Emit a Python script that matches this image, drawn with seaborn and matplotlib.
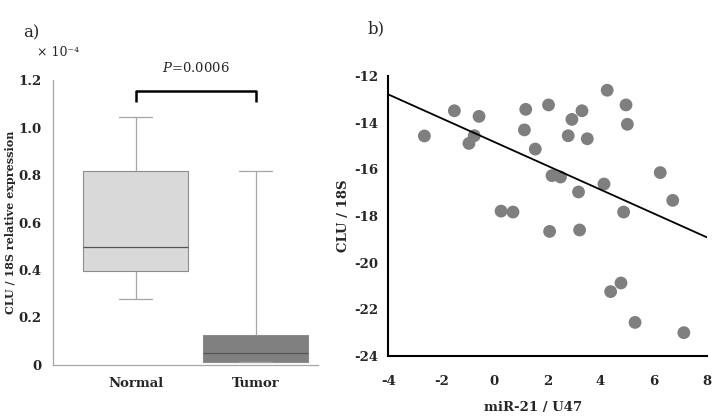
import matplotlib
matplotlib.use("Agg")
import matplotlib.pyplot as plt
import seaborn as sns
import numpy as np
import pandas as pd
from matplotlib.ticker import MultipleLocator

# panel a: five-number summaries (x 10^-4)
groups = ["Normal", "Tumor"]
normal_vals = [0.278, 0.396, 0.495, 0.818, 1.045]
tumor_vals = [0.011, 0.011, 0.050, 0.126, 0.818]
p_label = "$P$=0.0006"

# panel b: miR-21 / U47 vs CLU / 18S
mir21 = [-2.64, -1.51, -0.96, -0.76, -0.58, 0.25, 0.70, 1.13, 1.18, 1.54,
         2.04, 2.08, 2.17, 2.49, 2.78, 2.92, 3.17, 3.21, 3.30, 3.50,
         4.13, 4.25, 4.38, 4.77, 4.87, 4.96, 5.01, 5.30, 6.25, 6.72, 7.14]
clu = [-14.57, -13.49, -14.89, -14.56, -13.73, -17.79, -17.83, -14.31, -13.43, -15.13,
       -13.24, -18.66, -16.27, -16.33, -14.56, -13.86, -16.97, -18.60, -13.49, -14.69,
       -16.63, -12.61, -21.24, -20.87, -17.83, -13.24, -14.07, -22.56, -16.14, -17.33, -23.00]
fit_slope = -0.51
fit_intercept = -14.83

sns.set_style("white")
plt.rcParams["font.family"] = ["DejaVu Serif"]
plt.rcParams["mathtext.fontset"] = "dejavuserif"
plt.rcParams["axes.unicode_minus"] = False

fig = plt.figure(figsize=(7.2, 4.18), dpi=100)
ax1 = fig.add_axes([0.0732, 0.1268, 0.3685, 0.6818])
ax2 = fig.add_axes([0.5393, 0.1483, 0.4422, 0.6699])

# ---- panel a ----
box_df = pd.DataFrame({
    "group": [groups[0]] * len(normal_vals) + [groups[1]] * len(tumor_vals),
    "value": normal_vals + tumor_vals,
})
sns.boxplot(data=box_df, x="group", y="value", hue="group",
            palette=["#d9d9d9", "#808080"], whis=(0, 100), width=0.87,
            linecolor="#8c8c8c", linewidth=0.8, legend=False, ax=ax1,
            capwidths=0.27,
            medianprops={"color": "#555555", "linewidth": 0.9},
            whiskerprops={"color": "#a6a6a6", "linewidth": 0.9},
            capprops={"color": "#a6a6a6", "linewidth": 0.9})
ax1.set_xlim(-0.69, 1.52)
ax1.set_ylim(0, 1.2)
ax1.yaxis.set_minor_locator(MultipleLocator(0.1))
ax1.set_yticks([0, 0.2, 0.4, 0.6, 0.8, 1.0, 1.2])
ax1.set_yticklabels(["0", "0.2", "0.4", "0.6", "0.8", "1.0", "1.2"])
ax1.set_xticks([0, 1])
ax1.set_xticklabels(groups)
ax1.set_xticks([0.5], minor=True)
ax1.tick_params(axis="x", which="major", length=0, pad=9, labelsize=9.5)
ax1.tick_params(axis="x", which="minor", length=3, color="#a6a6a6", direction="out")
ax1.tick_params(axis="y", which="major", length=3, color="#a6a6a6", direction="out",
                labelsize=9.5, pad=5)
ax1.tick_params(axis="y", which="minor", length=2, color="#a6a6a6", direction="out")
ax1.set_xlabel("")
ax1.set_ylabel("CLU / 18S relative expression", fontsize=8, fontweight="bold", labelpad=2)
for side in ["top", "right"]:
    ax1.spines[side].set_visible(False)
for side in ["left", "bottom"]:
    ax1.spines[side].set_color("#a6a6a6")
    ax1.spines[side].set_linewidth(0.9)

# significance bracket
ax1.plot([0, 0, 1, 1], [1.107, 1.155, 1.155, 1.107], color="black", lw=1.8,
         clip_on=False, solid_capstyle="butt")
ax1.text(0.5, 1.25, p_label, ha="center", va="center", fontsize=9.5)

fig.text(0.032, 0.922, "a)", fontsize=12, ha="left", va="center")
fig.text(0.052, 0.875, "× 10⁻⁴", fontsize=9, ha="left", va="center")

# ---- panel b ----
sns.scatterplot(x=mir21, y=clu, color="#7f7f7f", s=85, edgecolor="none", ax=ax2)
line_x = np.array([-4.0, 8.0])
sns.lineplot(x=line_x, y=fit_intercept + fit_slope * line_x, color="black", lw=1.3, ax=ax2)
ax2.set_xlim(-4, 8)
ax2.set_ylim(-24, -12)
ax2.xaxis.set_major_locator(MultipleLocator(2))
ax2.xaxis.set_minor_locator(MultipleLocator(0.5))
ax2.yaxis.set_major_locator(MultipleLocator(2))
ax2.yaxis.set_minor_locator(MultipleLocator(0.5))
ax2.tick_params(axis="x", which="major", direction="inout", length=8, width=1.2,
                labelsize=9.5, pad=10)
ax2.tick_params(axis="x", which="minor", direction="in", length=3, width=1.2)
ax2.tick_params(axis="y", which="major", direction="out", length=4, width=1.2,
                labelsize=9.5, pad=3)
ax2.tick_params(axis="y", which="minor", direction="out", length=2.5, width=1.0)
ax2.set_xlabel("miR-21 / U47", fontsize=9.5, fontweight="bold")
ax2.xaxis.set_label_coords(0.455, -0.16)
ax2.set_ylabel("CLU / 18S", fontsize=9.5, fontweight="bold", labelpad=3)
for side in ["top", "right"]:
    ax2.spines[side].set_visible(False)
for side in ["left", "bottom"]:
    ax2.spines[side].set_color("black")
    ax2.spines[side].set_linewidth(1.5)

for ax in (ax1, ax2):
    for lab in ax.get_xticklabels() + ax.get_yticklabels():
        lab.set_fontweight("bold")

fig.text(0.511, 0.93, "b)", fontsize=12, ha="left", va="center")

fig.savefig("out.png", dpi=100)
plt.close(fig)
